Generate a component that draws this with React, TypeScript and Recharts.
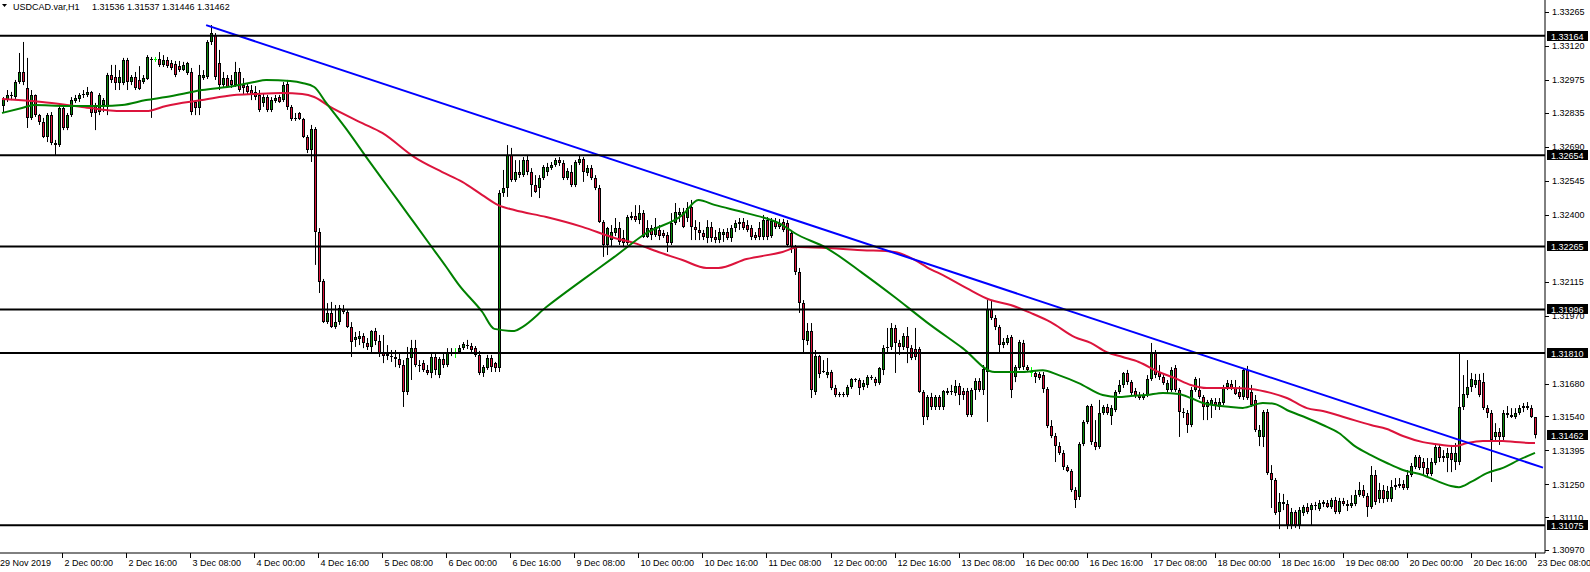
import React from "react";
import { Bar, ComposedChart, Line, ReferenceLine, XAxis, YAxis } from "recharts";

// hourly bars per session: [open, high, low, close]
const nov29 = [
  [1.32864, 1.32902, 1.32838, 1.32894], [1.32889, 1.32932, 1.32881, 1.32911], [1.32911, 1.32924, 1.32889, 1.32906],
  [1.32902, 1.32975, 1.32894, 1.32966], [1.32966, 1.3309, 1.32958, 1.33009], [1.33009, 1.33137, 1.32953, 1.32966],
  [1.32941, 1.33069, 1.3277, 1.32813], [1.32813, 1.32932, 1.32804, 1.32911], [1.32911, 1.32913, 1.32817, 1.32825],
  [1.32825, 1.3283, 1.32783, 1.32795], [1.32795, 1.32813, 1.32727, 1.32732], [1.32732, 1.32834, 1.3271, 1.32825],
  [1.32825, 1.32838, 1.32697, 1.32706], [1.32706, 1.32719, 1.32655, 1.32697], [1.32697, 1.32868, 1.32689, 1.32855],
];
const dec02 = [
  [1.32855, 1.32868, 1.32761, 1.3277], [1.3277, 1.32834, 1.32761, 1.32825], [1.32825, 1.32902, 1.32817, 1.32889],
  [1.32885, 1.32911, 1.32877, 1.32898], [1.32894, 1.32919, 1.32881, 1.32911], [1.32911, 1.32932, 1.32898, 1.32915],
  [1.32911, 1.32945, 1.32902, 1.32924], [1.32924, 1.32928, 1.32817, 1.32834], [1.32868, 1.32877, 1.32761, 1.32834],
  [1.32838, 1.32919, 1.32825, 1.32911], [1.32868, 1.32898, 1.32838, 1.32889], [1.3286, 1.33005, 1.32825, 1.32996],
  [1.32996, 1.33039, 1.32962, 1.32975], [1.32987, 1.33039, 1.32932, 1.32962], [1.32962, 1.33017, 1.32932, 1.32987],
  [1.32962, 1.33069, 1.32953, 1.3306], [1.3306, 1.33069, 1.32932, 1.32966], [1.32966, 1.32996, 1.32953, 1.32987],
  [1.32987, 1.33009, 1.32932, 1.32941], [1.32975, 1.33034, 1.32932, 1.32936], [1.32966, 1.32996, 1.32958, 1.32983],
  [1.32979, 1.33081, 1.32975, 1.33073], [1.33064, 1.33073, 1.32813, 1.3306], [1.33064, 1.33073, 1.33052, 1.33064],
];
const dec03 = [
  [1.33064, 1.33094, 1.3303, 1.33039], [1.33039, 1.33081, 1.3303, 1.3306], [1.3306, 1.33073, 1.33026, 1.33034],
  [1.33047, 1.3306, 1.33017, 1.33026], [1.33043, 1.33056, 1.32987, 1.32996], [1.33034, 1.33056, 1.33009, 1.33017],
  [1.33017, 1.33052, 1.33013, 1.33039], [1.33005, 1.33052, 1.32996, 1.33047], [1.33009, 1.33026, 1.32825, 1.32838],
  [1.32881, 1.32889, 1.32825, 1.32855], [1.32855, 1.33039, 1.32825, 1.32996], [1.32983, 1.33017, 1.32975, 1.32996],
  [1.32987, 1.33145, 1.32979, 1.33137], [1.33137, 1.33209, 1.33124, 1.33175], [1.33167, 1.33175, 1.32975, 1.32987],
  [1.33047, 1.33103, 1.32932, 1.32953], [1.32953, 1.33009, 1.32945, 1.32983], [1.32983, 1.32996, 1.32941, 1.32945],
  [1.32975, 1.32996, 1.32941, 1.32953], [1.32953, 1.33052, 1.32945, 1.33009], [1.33009, 1.33026, 1.32924, 1.32932],
  [1.32953, 1.32983, 1.32911, 1.32941], [1.32949, 1.32958, 1.32911, 1.32924], [1.32932, 1.32953, 1.32889, 1.32911],
];
const dec04 = [
  [1.32924, 1.32949, 1.32889, 1.32902], [1.32911, 1.32932, 1.32838, 1.32847], [1.32877, 1.32919, 1.3286, 1.32902],
  [1.32902, 1.32911, 1.32838, 1.32847], [1.32847, 1.32902, 1.32838, 1.32889], [1.32885, 1.32911, 1.32877, 1.32898],
  [1.32902, 1.32911, 1.32877, 1.32881], [1.32889, 1.32966, 1.32881, 1.32953], [1.32958, 1.32975, 1.32847, 1.3286],
  [1.3286, 1.32868, 1.328, 1.32808], [1.32813, 1.32834, 1.328, 1.32808], [1.32834, 1.32838, 1.32804, 1.32808],
  [1.32808, 1.32813, 1.32727, 1.32732], [1.32732, 1.3274, 1.32663, 1.32676], [1.32676, 1.32783, 1.32625, 1.32766],
  [1.32766, 1.32774, 1.32186, 1.32326], [1.32326, 1.32343, 1.32066, 1.32113], [1.32117, 1.32126, 1.31938, 1.31942],
  [1.31942, 1.32023, 1.31934, 1.31981], [1.31981, 1.32028, 1.31917, 1.31921], [1.31921, 1.32015, 1.31913, 1.31942],
  [1.31942, 1.32015, 1.3193, 1.32002], [1.31998, 1.32015, 1.31976, 1.31985], [1.31985, 1.31994, 1.31917, 1.31921],
];
const dec05 = [
  [1.31921, 1.31942, 1.31793, 1.31857], [1.31866, 1.319, 1.31836, 1.31878], [1.3187, 1.31904, 1.31844, 1.31883],
  [1.31883, 1.31895, 1.31831, 1.31853], [1.31853, 1.31874, 1.31823, 1.31836], [1.31836, 1.31908, 1.3181, 1.31904],
  [1.31904, 1.31917, 1.31844, 1.31861], [1.31861, 1.31887, 1.31793, 1.3181], [1.3181, 1.31887, 1.31767, 1.31797],
  [1.31806, 1.31844, 1.3178, 1.31797], [1.31797, 1.31823, 1.31772, 1.31793], [1.31793, 1.31823, 1.3175, 1.31785],
  [1.31785, 1.3181, 1.31746, 1.31759], [1.31759, 1.3178, 1.3158, 1.31644], [1.31644, 1.31836, 1.31631, 1.31789],
  [1.31789, 1.31866, 1.31695, 1.31831], [1.31831, 1.31866, 1.3175, 1.31759], [1.31759, 1.3178, 1.31729, 1.31755],
  [1.31767, 1.3178, 1.31729, 1.31738], [1.31738, 1.31759, 1.31716, 1.31725], [1.31725, 1.3181, 1.31703, 1.31793],
  [1.31793, 1.31814, 1.31716, 1.31738], [1.31716, 1.31793, 1.31703, 1.31785], [1.31785, 1.31814, 1.31746, 1.31759],
];
const dec06 = [
  [1.31759, 1.31831, 1.3175, 1.3181], [1.3181, 1.31831, 1.31797, 1.31814], [1.3181, 1.31831, 1.31789, 1.3181],
  [1.31814, 1.31844, 1.31806, 1.31831], [1.31831, 1.31857, 1.31823, 1.31848], [1.3184, 1.31866, 1.31827, 1.31844],
  [1.3184, 1.31853, 1.31814, 1.31823], [1.31831, 1.3184, 1.31793, 1.31802], [1.31802, 1.31819, 1.31716, 1.31725],
  [1.31725, 1.31759, 1.31708, 1.3175], [1.31746, 1.31802, 1.31738, 1.31789], [1.31789, 1.31802, 1.31729, 1.3175],
  [1.31767, 1.31772, 1.31729, 1.31746], [1.31746, 1.32505, 1.31729, 1.32493], [1.32493, 1.32591, 1.32476, 1.32514],
  [1.32514, 1.32697, 1.32476, 1.32655], [1.32655, 1.32685, 1.3254, 1.32548], [1.32548, 1.32633, 1.3254, 1.32582],
  [1.32582, 1.32633, 1.32557, 1.32569], [1.32569, 1.32646, 1.32561, 1.32633], [1.32633, 1.32655, 1.32569, 1.32582],
  [1.32582, 1.32599, 1.32476, 1.32527], [1.32527, 1.32569, 1.32493, 1.32497], [1.32514, 1.32569, 1.32471, 1.32557],
];
const dec09 = [
  [1.32557, 1.32612, 1.32548, 1.32604], [1.32582, 1.32621, 1.32565, 1.32604], [1.32599, 1.32625, 1.32591, 1.32612],
  [1.32612, 1.32642, 1.32604, 1.32633], [1.32633, 1.32646, 1.32608, 1.32621], [1.32621, 1.32633, 1.32548, 1.32557],
  [1.32557, 1.32599, 1.32548, 1.32586], [1.32582, 1.32612, 1.32518, 1.32527], [1.32527, 1.32633, 1.32518, 1.32625],
  [1.32621, 1.32655, 1.32612, 1.32638], [1.32638, 1.32646, 1.3254, 1.32582], [1.32578, 1.32612, 1.32565, 1.32599],
  [1.32599, 1.32612, 1.32548, 1.32557], [1.32557, 1.32569, 1.32505, 1.32514], [1.32514, 1.32527, 1.32365, 1.32369],
  [1.32369, 1.32377, 1.3222, 1.32271], [1.32271, 1.32348, 1.32228, 1.32343], [1.32292, 1.32356, 1.32262, 1.32326],
  [1.32322, 1.32386, 1.32309, 1.32343], [1.32343, 1.32369, 1.32271, 1.32284], [1.32301, 1.32335, 1.32262, 1.32279],
  [1.32279, 1.32399, 1.32271, 1.3239], [1.32386, 1.32412, 1.32377, 1.32395], [1.32394, 1.32441, 1.32369, 1.32377],
];
const dec10 = [
  [1.32377, 1.32441, 1.3236, 1.32407], [1.32407, 1.3242, 1.32301, 1.32305], [1.32305, 1.32377, 1.32301, 1.32343],
  [1.32343, 1.32356, 1.32292, 1.32313], [1.32313, 1.32386, 1.32305, 1.32348], [1.32335, 1.32356, 1.32292, 1.32309],
  [1.32322, 1.32335, 1.32301, 1.32309], [1.32313, 1.32326, 1.32241, 1.32279], [1.32279, 1.32407, 1.32271, 1.32365],
  [1.32365, 1.3245, 1.32356, 1.32412], [1.32399, 1.32429, 1.32369, 1.32412], [1.32412, 1.32429, 1.32343, 1.32348],
  [1.32386, 1.32454, 1.32369, 1.32429], [1.32433, 1.32463, 1.32292, 1.32348], [1.32348, 1.32377, 1.32292, 1.32335],
  [1.32335, 1.32369, 1.32292, 1.32322], [1.32322, 1.32335, 1.32292, 1.32305], [1.32301, 1.32377, 1.32279, 1.32348],
  [1.32348, 1.32369, 1.32284, 1.32301], [1.32305, 1.32335, 1.32279, 1.32292], [1.32292, 1.32343, 1.32279, 1.32326],
  [1.32313, 1.32339, 1.32284, 1.32326], [1.32326, 1.32343, 1.32292, 1.32301], [1.32301, 1.32356, 1.32284, 1.32343],
];
const dec11 = [
  [1.32343, 1.32377, 1.32326, 1.32365], [1.3236, 1.32386, 1.32335, 1.32369], [1.32369, 1.32386, 1.32335, 1.32343],
  [1.32356, 1.32377, 1.32326, 1.32335], [1.32343, 1.32356, 1.32292, 1.32305], [1.32313, 1.32326, 1.32292, 1.32301],
  [1.32343, 1.32369, 1.32292, 1.32305], [1.32305, 1.32399, 1.32292, 1.32377], [1.32377, 1.3239, 1.32292, 1.32305],
  [1.32309, 1.32386, 1.32301, 1.32373], [1.32373, 1.32386, 1.32339, 1.32348], [1.3236, 1.32382, 1.32339, 1.32348],
  [1.32369, 1.32382, 1.32326, 1.32335], [1.32365, 1.32377, 1.32262, 1.32271], [1.32322, 1.32335, 1.32237, 1.32262],
  [1.32262, 1.32271, 1.32143, 1.32156], [1.32156, 1.32173, 1.31981, 1.32023], [1.32023, 1.32036, 1.31814, 1.31866],
  [1.31861, 1.31938, 1.31844, 1.31904], [1.31904, 1.31938, 1.31618, 1.31652], [1.31644, 1.31823, 1.31631, 1.31797],
  [1.31797, 1.31802, 1.31703, 1.3172], [1.31733, 1.3178, 1.31725, 1.31729], [1.31716, 1.31789, 1.31703, 1.31729],
];
const dec12 = [
  [1.31729, 1.31738, 1.31652, 1.31661], [1.31661, 1.31674, 1.31622, 1.31631], [1.31635, 1.31644, 1.31622, 1.31631],
  [1.31631, 1.31644, 1.31622, 1.31635], [1.31631, 1.31674, 1.31622, 1.31665], [1.31665, 1.31703, 1.31657, 1.31699],
  [1.31699, 1.31703, 1.31686, 1.31695], [1.31695, 1.31703, 1.31631, 1.31661], [1.31665, 1.31695, 1.31652, 1.31682],
  [1.31674, 1.31716, 1.31661, 1.31708], [1.31703, 1.31716, 1.31695, 1.31708], [1.31699, 1.31708, 1.31669, 1.31682],
  [1.31682, 1.3175, 1.31674, 1.31746], [1.31738, 1.31844, 1.31716, 1.31831], [1.31831, 1.31917, 1.31814, 1.31836],
  [1.31836, 1.31938, 1.31823, 1.31917], [1.31917, 1.3193, 1.31725, 1.31853], [1.31853, 1.31866, 1.31802, 1.31836],
  [1.31836, 1.31895, 1.31823, 1.31883], [1.31883, 1.31921, 1.31767, 1.31831], [1.31831, 1.31844, 1.3178, 1.31789],
  [1.31827, 1.31917, 1.3178, 1.31793], [1.31827, 1.31836, 1.3164, 1.31644], [1.31644, 1.31652, 1.31503, 1.31537],
];
const dec13 = [
  [1.31537, 1.31631, 1.31524, 1.31622], [1.31622, 1.3164, 1.31567, 1.3158], [1.3158, 1.31631, 1.31567, 1.31622],
  [1.31622, 1.31631, 1.31567, 1.3158], [1.3158, 1.31652, 1.31567, 1.31648], [1.3164, 1.31661, 1.31631, 1.31648],
  [1.31648, 1.31674, 1.31631, 1.31644], [1.3164, 1.31695, 1.31627, 1.31669], [1.31669, 1.31682, 1.31588, 1.31631],
  [1.31648, 1.31661, 1.3161, 1.31631], [1.31648, 1.31661, 1.31537, 1.31546], [1.31546, 1.31661, 1.31537, 1.31652],
  [1.31652, 1.31703, 1.3161, 1.31691], [1.31691, 1.31703, 1.31644, 1.31652], [1.31652, 1.31759, 1.31631, 1.31742],
  [1.31729, 1.32036, 1.31516, 1.31998], [1.31998, 1.32036, 1.31951, 1.31959], [1.31959, 1.31972, 1.31908, 1.31921],
  [1.31921, 1.3193, 1.31814, 1.31844], [1.31844, 1.31874, 1.31831, 1.31857], [1.31853, 1.31887, 1.31844, 1.31874],
  [1.31878, 1.31887, 1.31618, 1.31652], [1.31708, 1.31759, 1.31686, 1.3175], [1.31746, 1.31866, 1.31738, 1.31857],
];
const dec16 = [
  [1.31853, 1.31866, 1.31738, 1.3175], [1.3175, 1.31759, 1.31729, 1.31738], [1.31729, 1.3175, 1.31708, 1.31729],
  [1.31725, 1.31733, 1.31682, 1.31708], [1.31721, 1.31729, 1.31695, 1.31703], [1.31716, 1.31729, 1.3164, 1.31657],
  [1.31657, 1.31665, 1.3149, 1.31499], [1.31499, 1.31524, 1.31447, 1.31456], [1.31456, 1.31469, 1.31345, 1.31413],
  [1.31413, 1.3143, 1.31375, 1.31384], [1.31384, 1.31396, 1.31311, 1.31324], [1.31324, 1.31332, 1.31302, 1.31307],
  [1.31307, 1.31315, 1.31217, 1.31226], [1.31226, 1.31238, 1.31149, 1.31183], [1.31196, 1.3143, 1.31183, 1.31422],
  [1.31422, 1.31524, 1.31413, 1.31516], [1.31516, 1.31588, 1.31507, 1.31584], [1.31584, 1.31593, 1.31418, 1.3143],
  [1.3143, 1.31524, 1.31396, 1.31409], [1.31409, 1.3161, 1.31401, 1.31554], [1.31554, 1.31588, 1.31546, 1.3158],
  [1.3158, 1.31593, 1.31546, 1.31554], [1.31541, 1.31588, 1.31503, 1.31575], [1.31567, 1.31652, 1.31558, 1.31644],
];
const dec17 = [
  [1.31644, 1.31695, 1.31635, 1.31674], [1.31674, 1.31729, 1.31661, 1.31725], [1.31725, 1.31738, 1.31674, 1.31686],
  [1.31686, 1.31695, 1.31631, 1.3164], [1.31648, 1.31661, 1.31618, 1.31627], [1.31631, 1.31644, 1.3161, 1.31618],
  [1.31618, 1.3164, 1.3161, 1.31631], [1.31631, 1.31716, 1.31622, 1.31699], [1.31699, 1.31853, 1.31691, 1.3181],
  [1.3181, 1.31823, 1.31703, 1.31716], [1.31729, 1.31759, 1.31695, 1.31708], [1.31708, 1.31716, 1.31674, 1.31682],
  [1.31652, 1.31695, 1.3164, 1.31682], [1.31652, 1.3175, 1.31644, 1.31738], [1.31746, 1.31759, 1.31644, 1.31652],
  [1.31652, 1.31661, 1.31452, 1.31558], [1.31558, 1.31575, 1.31533, 1.31554], [1.31554, 1.31567, 1.31469, 1.31503],
  [1.31503, 1.31665, 1.31494, 1.31652], [1.31652, 1.31708, 1.31644, 1.31699], [1.31652, 1.31703, 1.31614, 1.31622],
  [1.31622, 1.31631, 1.31524, 1.3158], [1.3158, 1.3161, 1.31524, 1.31601], [1.31588, 1.31618, 1.31533, 1.3161],
];
const dec18 = [
  [1.31601, 1.31618, 1.31567, 1.31588], [1.3158, 1.31618, 1.31567, 1.31601], [1.31597, 1.31674, 1.31588, 1.31665],
  [1.31665, 1.31695, 1.31652, 1.31682], [1.31678, 1.31695, 1.31652, 1.31661], [1.31661, 1.31695, 1.31631, 1.31635],
  [1.31644, 1.31669, 1.31614, 1.31622], [1.31622, 1.31746, 1.3161, 1.31738], [1.31738, 1.31755, 1.3161, 1.31618],
  [1.31644, 1.31674, 1.3158, 1.31588], [1.3161, 1.31631, 1.31473, 1.31482], [1.31452, 1.31503, 1.31413, 1.31482],
  [1.31452, 1.31567, 1.31409, 1.31558], [1.31558, 1.31571, 1.3129, 1.31298], [1.31298, 1.31332, 1.31149, 1.31268],
  [1.31268, 1.31277, 1.31119, 1.31128], [1.31132, 1.31213, 1.31059, 1.31175], [1.31175, 1.31209, 1.3114, 1.31166],
  [1.31166, 1.31183, 1.31059, 1.31076], [1.31076, 1.31149, 1.31059, 1.31132], [1.31132, 1.3114, 1.31064, 1.31076],
  [1.31076, 1.31153, 1.31059, 1.3114], [1.31128, 1.31162, 1.31115, 1.31153], [1.31153, 1.3117, 1.31123, 1.31132],
];
const dec19 = [
  [1.3114, 1.3117, 1.31076, 1.31162], [1.31157, 1.31175, 1.3114, 1.31162], [1.31145, 1.31183, 1.31136, 1.3117],
  [1.31166, 1.31183, 1.31153, 1.31175], [1.3117, 1.31183, 1.31149, 1.31153], [1.31153, 1.31192, 1.31145, 1.31183],
  [1.31183, 1.31196, 1.31123, 1.31132], [1.31132, 1.31192, 1.31123, 1.31179], [1.31179, 1.31192, 1.31157, 1.31166],
  [1.31166, 1.31183, 1.31136, 1.31157], [1.31157, 1.31204, 1.31149, 1.3117], [1.31166, 1.31226, 1.31157, 1.31204],
  [1.31204, 1.3126, 1.31196, 1.31226], [1.31226, 1.31247, 1.31192, 1.312], [1.312, 1.31213, 1.31111, 1.31153],
  [1.31153, 1.31328, 1.31145, 1.3129], [1.3129, 1.31311, 1.31162, 1.31175], [1.31187, 1.31256, 1.3117, 1.31226],
  [1.31226, 1.31247, 1.3117, 1.31187], [1.31187, 1.31243, 1.31175, 1.31221], [1.31187, 1.31268, 1.31175, 1.31238],
  [1.31238, 1.31277, 1.31226, 1.31247], [1.31243, 1.31277, 1.31234, 1.31251], [1.31251, 1.31268, 1.31226, 1.31234],
];
const dec20 = [
  [1.31234, 1.31311, 1.31226, 1.3129], [1.3129, 1.31341, 1.31281, 1.31328], [1.31324, 1.31375, 1.31315, 1.31366],
  [1.31366, 1.31375, 1.31311, 1.3132], [1.31345, 1.31362, 1.3129, 1.3132], [1.3132, 1.31362, 1.31281, 1.31294],
  [1.31294, 1.31362, 1.31285, 1.31345], [1.31341, 1.31418, 1.31332, 1.31409], [1.31409, 1.31418, 1.31345, 1.31362],
  [1.31371, 1.31396, 1.31345, 1.31362], [1.31362, 1.31405, 1.31302, 1.31384], [1.31384, 1.31418, 1.31302, 1.31354],
  [1.31345, 1.31426, 1.31311, 1.31384], [1.31345, 1.3181, 1.31332, 1.3158], [1.3158, 1.31716, 1.31567, 1.31635],
  [1.31631, 1.3178, 1.31618, 1.31665], [1.31665, 1.31725, 1.31644, 1.31699], [1.31674, 1.31721, 1.31661, 1.31695],
  [1.31695, 1.31721, 1.31622, 1.31631], [1.31686, 1.31725, 1.31567, 1.31575], [1.31575, 1.31588, 1.31533, 1.31554],
  [1.31554, 1.31567, 1.3126, 1.31439], [1.31452, 1.31511, 1.31439, 1.31473], [1.31473, 1.3149, 1.31418, 1.31452],
];
const dec23 = [
  [1.31452, 1.31567, 1.31439, 1.31554], [1.31554, 1.31584, 1.31533, 1.31546], [1.31546, 1.31575, 1.31533, 1.31537],
  [1.31537, 1.31575, 1.31529, 1.31554], [1.31554, 1.31588, 1.31546, 1.31575], [1.31575, 1.31597, 1.31558, 1.31584],
  [1.31584, 1.31601, 1.31567, 1.31575], [1.31575, 1.31588, 1.31533, 1.31537], [1.31536, 1.31537, 1.31446, 1.31462],
];

const sessions: [string, number, number[][]][] = [
  ["29 Nov", 9, nov29], ["2 Dec", 0, dec02], ["3 Dec", 0, dec03], ["4 Dec", 0, dec04],
  ["5 Dec", 0, dec05], ["6 Dec", 0, dec06], ["9 Dec", 0, dec09], ["10 Dec", 0, dec10],
  ["11 Dec", 0, dec11], ["12 Dec", 0, dec12], ["13 Dec", 0, dec13], ["16 Dec", 0, dec16],
  ["17 Dec", 0, dec17], ["18 Dec", 0, dec18], ["19 Dec", 0, dec19], ["20 Dec", 0, dec20],
  ["23 Dec", 0, dec23],
];
// empty slots on the right, the trend line runs into them
const emptySlots = ["23 Dec 09:00", "23 Dec 10:00"];

const redMa: [string, number][] = [
  ["29 Nov 09:00", 1.32894], ["29 Nov 19:00", 1.32881], ["2 Dec 05:00", 1.3286], ["2 Dec 15:00", 1.32842],
  ["2 Dec 21:00", 1.32842], ["3 Dec 02:00", 1.32864], ["3 Dec 11:00", 1.32889], ["3 Dec 19:00", 1.32911],
  ["4 Dec 00:00", 1.32915], ["4 Dec 07:00", 1.32919], ["4 Dec 12:00", 1.32915], ["4 Dec 15:00", 1.32902],
  ["4 Dec 19:00", 1.3286], ["5 Dec 03:00", 1.32791], ["5 Dec 08:00", 1.32749], ["5 Dec 16:00", 1.32646],
  ["5 Dec 23:00", 1.32582], ["6 Dec 04:00", 1.3254], ["6 Dec 09:00", 1.32484], ["6 Dec 13:00", 1.32441],
  ["6 Dec 17:00", 1.3242], ["9 Dec 01:00", 1.3239], ["9 Dec 10:00", 1.32348], ["9 Dec 18:00", 1.32301],
  ["9 Dec 23:00", 1.32279], ["10 Dec 05:00", 1.32241], ["10 Dec 11:00", 1.32207], ["10 Dec 17:00", 1.32173],
  ["10 Dec 20:00", 1.32173], ["11 Dec 03:00", 1.32211], ["11 Dec 12:00", 1.32241], ["11 Dec 16:00", 1.32262],
  ["11 Dec 23:00", 1.32258], ["12 Dec 08:00", 1.32249], ["12 Dec 16:00", 1.32241], ["12 Dec 21:00", 1.32207],
  ["13 Dec 00:00", 1.32177], ["13 Dec 05:00", 1.32134], ["13 Dec 10:00", 1.32087], ["13 Dec 16:00", 1.32036],
  ["13 Dec 21:00", 1.32015], ["16 Dec 02:00", 1.31981], ["16 Dec 07:00", 1.31942], ["16 Dec 13:00", 1.31878],
  ["16 Dec 17:00", 1.31853], ["16 Dec 21:00", 1.31814], ["17 Dec 01:00", 1.31793], ["17 Dec 05:00", 1.31772],
  ["17 Dec 10:00", 1.31729], ["17 Dec 14:00", 1.31703], ["17 Dec 18:00", 1.31674], ["17 Dec 22:00", 1.31661],
  ["18 Dec 04:00", 1.31661], ["18 Dec 09:00", 1.31657], ["18 Dec 14:00", 1.3164], ["18 Dec 18:00", 1.31618],
  ["18 Dec 23:00", 1.31575], ["19 Dec 03:00", 1.31563], ["19 Dec 09:00", 1.31533], ["19 Dec 15:00", 1.31503],
  ["19 Dec 19:00", 1.31486], ["19 Dec 23:00", 1.31456], ["20 Dec 04:00", 1.3143], ["20 Dec 07:00", 1.31422],
  ["20 Dec 12:00", 1.31413], ["20 Dec 15:00", 1.31426], ["20 Dec 19:00", 1.31435], ["23 Dec 00:00", 1.31435],
  ["23 Dec 03:00", 1.3143], ["23 Dec 08:00", 1.31426],
];

const greenMa: [string, number][] = [
  ["29 Nov 09:00", 1.32834], ["29 Nov 14:00", 1.32855], ["29 Nov 17:00", 1.32868], ["2 Dec 01:00", 1.32864],
  ["2 Dec 10:00", 1.32864], ["2 Dec 15:00", 1.32868], ["2 Dec 21:00", 1.32889], ["3 Dec 02:00", 1.32902],
  ["3 Dec 11:00", 1.32932], ["3 Dec 19:00", 1.32949], ["4 Dec 00:00", 1.32966], ["4 Dec 03:00", 1.32975],
  ["4 Dec 09:00", 1.3297], ["4 Dec 12:00", 1.32962], ["4 Dec 15:00", 1.32945], ["4 Dec 18:00", 1.32877],
  ["4 Dec 23:00", 1.32766], ["5 Dec 04:00", 1.32646], ["5 Dec 08:00", 1.32552], ["5 Dec 12:00", 1.32459],
  ["5 Dec 16:00", 1.32365], ["5 Dec 20:00", 1.32271], ["6 Dec 00:00", 1.32177], ["6 Dec 03:00", 1.32104],
  ["6 Dec 09:00", 1.31985], ["6 Dec 12:00", 1.31913], ["6 Dec 17:00", 1.31904], ["6 Dec 19:00", 1.31921],
  ["9 Dec 01:00", 1.32006], ["9 Dec 10:00", 1.32121], ["9 Dec 18:00", 1.3222], ["10 Dec 02:00", 1.32322],
  ["10 Dec 11:00", 1.32399], ["10 Dec 15:00", 1.32463], ["10 Dec 19:00", 1.32442], ["11 Dec 03:00", 1.32407],
  ["11 Dec 12:00", 1.32356], ["11 Dec 15:00", 1.32322], ["11 Dec 23:00", 1.32258], ["12 Dec 08:00", 1.32151],
  ["12 Dec 16:00", 1.32049], ["13 Dec 00:00", 1.31942], ["13 Dec 09:00", 1.31831], ["13 Dec 17:00", 1.31729],
  ["16 Dec 00:00", 1.31729], ["16 Dec 05:00", 1.31737], ["16 Dec 09:00", 1.31716], ["16 Dec 14:00", 1.31682],
  ["16 Dec 20:00", 1.31631], ["17 Dec 00:00", 1.31622], ["17 Dec 03:00", 1.31627], ["17 Dec 07:00", 1.31631],
  ["17 Dec 11:00", 1.3164], ["17 Dec 15:00", 1.31635], ["17 Dec 18:00", 1.31618], ["17 Dec 21:00", 1.31597],
  ["18 Dec 04:00", 1.3158], ["18 Dec 07:00", 1.31576], ["18 Dec 12:00", 1.31597], ["18 Dec 15:00", 1.31593],
  ["18 Dec 18:00", 1.31567], ["18 Dec 23:00", 1.31533], ["19 Dec 03:00", 1.31503], ["19 Dec 07:00", 1.31469],
  ["19 Dec 11:00", 1.31413], ["19 Dec 15:00", 1.31375], ["19 Dec 19:00", 1.31341], ["19 Dec 23:00", 1.31311],
  ["20 Dec 04:00", 1.3129], ["20 Dec 07:00", 1.31268], ["20 Dec 11:00", 1.31243], ["20 Dec 13:00", 1.31238],
  ["20 Dec 16:00", 1.3126], ["20 Dec 20:00", 1.31298], ["23 Dec 00:00", 1.3132], ["23 Dec 04:00", 1.31354],
  ["23 Dec 08:00", 1.31384],
];

const trendLine: [string, number][] = [["3 Dec 12:00", 1.33209], ["23 Dec 10:00", 1.31321]];

const levels = [1.33164, 1.32654, 1.32265, 1.31996, 1.3181, 1.31075];
const lastPrice = 1.31462;
const quote = ["1.31536", "1.31537", "1.31446", "1.31462"];

const priceTicks = [
  1.33265, 1.3312, 1.32975, 1.32835, 1.3269, 1.32545, 1.324, 1.32115,
  1.3197, 1.3168, 1.3154, 1.31395, 1.3125, 1.3111, 1.3097,
];
const timeTicks = [
  "29 Nov 09:00", "2 Dec 00:00", "2 Dec 16:00", "3 Dec 08:00", "4 Dec 00:00", "4 Dec 16:00", "5 Dec 08:00",
  "6 Dec 00:00", "6 Dec 16:00", "9 Dec 08:00", "10 Dec 00:00", "10 Dec 16:00", "11 Dec 08:00",
  "12 Dec 00:00", "12 Dec 16:00", "13 Dec 08:00", "16 Dec 00:00", "16 Dec 16:00", "17 Dec 08:00",
  "18 Dec 00:00", "18 Dec 16:00", "19 Dec 08:00", "20 Dec 00:00", "20 Dec 16:00", "23 Dec 08:00",
];

const FONT = '"Liberation Sans", Arial, sans-serif';
const BULL = "#0a8a0a";
const BEAR = "#dc143c";

const hour = (h: number) => String(h).padStart(2, "0") + ":00";

const rows: any[] = sessions.flatMap(([day, h0, bars]) =>
  bars.map((b, k) => ({
    t: `${day} ${hour(h0 + k)}`,
    open: b[0],
    high: b[1],
    low: b[2],
    close: b[3],
    range: [b[2], b[1]],
  }))
);
emptySlots.forEach((t) => rows.push({ t }));
const byTime = new Map(rows.map((r) => [r.t, r]));
redMa.forEach(([t, v]) => (byTime.get(t).red = v));
greenMa.forEach(([t, v]) => (byTime.get(t).green = v));
trendLine.forEach(([t, v]) => (byTime.get(t).trend = v));

function Candle(props: any) {
  const { x, y, width, height, payload } = props;
  if (!payload || payload.open == null) return null;
  const { open, high, low, close } = payload;
  const top = Math.min(y, y + height);
  const span = Math.abs(height);
  const k = high > low ? span / (high - low) : 0;
  const cx = Math.round(x + width / 2);
  const yO = top + (high - open) * k;
  const yC = top + (high - close) * k;
  if (open === close) {
    const yy = Math.round(yO) + 0.5;
    return (
      <g>
        <line x1={cx + 0.5} x2={cx + 0.5} y1={top} y2={top + span} stroke="#00ff00" />
        <line x1={cx - 1} x2={cx + 2} y1={yy} y2={yy} stroke="#00ff00" />
      </g>
    );
  }
  const b0 = Math.round(Math.min(yO, yC));
  const b1 = Math.max(Math.round(Math.max(yO, yC)), b0 + 1);
  const h = b1 - b0;
  return (
    <g>
      <line x1={cx + 0.5} x2={cx + 0.5} y1={top} y2={top + span} stroke="#000" />
      <rect x={cx - 1} y={b0} width={3} height={h} fill="#000" />
      {h > 2 && <rect x={cx} y={b0 + 1} width={1} height={h - 2} fill={close > open ? BULL : BEAR} />}
    </g>
  );
}

function TimeTick({ x, y, payload }: any) {
  if (payload.value === timeTicks[0]) {
    return (
      <text x={x - 2} y={y + 12.5} fontSize={9} fontFamily={FONT} fill="#000">
        29 Nov 2019
      </text>
    );
  }
  const px = Math.round(x) + 0.5;
  return (
    <g>
      <line x1={px} x2={px} y1={y} y2={y + 5} stroke="#000" />
      <text x={px + 2} y={y + 12.5} fontSize={9} fontFamily={FONT} fill="#000">
        {payload.value}
      </text>
    </g>
  );
}

function PriceTick({ x, y, payload }: any) {
  const py = Math.round(y) + 0.5;
  return (
    <g>
      <line x1={x} x2={x + 4} y1={py} y2={py} stroke="#000" />
      <text x={x + 7} y={y + 3.5} fontSize={9} fontFamily={FONT} fill="#000">
        {payload.value.toFixed(5)}
      </text>
    </g>
  );
}

function PriceTag({ viewBox, price }: any) {
  if (!viewBox) return null;
  const yy = Math.round(viewBox.y);
  const left = viewBox.x + viewBox.width + 2;
  return (
    <g>
      <rect x={left} y={yy - 5} width={41} height={10} fill="#000" />
      <text x={left + 4} y={yy + 3.5} fontSize={9} fontFamily={FONT} fill="#fff">
        {price.toFixed(5)}
      </text>
    </g>
  );
}

export default function App() {
  return (
    <div style={{ position: "relative", width: 1590, height: 572, background: "#fff" }}>
      <style>{"body{margin:0}"}</style>
      <ComposedChart width={1590} height={572} data={rows} margin={{ top: 0, right: 0, bottom: 0, left: 0 }}>
        <XAxis
          dataKey="t"
          interval={0}
          ticks={timeTicks}
          tick={<TimeTick />}
          tickLine={false}
          tickSize={0}
          tickMargin={0}
          height={19}
          axisLine={{ stroke: "#000" }}
        />
        <YAxis
          orientation="right"
          type="number"
          width={45}
          domain={[1.30957, 1.33316]}
          allowDataOverflow
          ticks={priceTicks}
          interval={0}
          tick={<PriceTick />}
          tickLine={false}
          tickSize={0}
          tickMargin={0}
          axisLine={{ stroke: "#000" }}
        />
        <Bar dataKey="range" barSize={3} shape={(p: any) => <Candle {...p} />} isAnimationActive={false} />
        <Line type="monotone" dataKey="red" stroke={BEAR} strokeWidth={2} dot={false} activeDot={false} connectNulls isAnimationActive={false} />
        <Line type="monotone" dataKey="green" stroke="#008000" strokeWidth={2} dot={false} activeDot={false} connectNulls isAnimationActive={false} />
        <Line type="linear" dataKey="trend" stroke="#0000ff" strokeWidth={2} dot={false} activeDot={false} connectNulls isAnimationActive={false} />
        {levels.map((v) => (
          <ReferenceLine key={v} y={v} stroke="#000" strokeWidth={2} label={<PriceTag price={v} />} />
        ))}
        <ReferenceLine y={lastPrice} stroke="none" label={<PriceTag price={lastPrice} />} />
      </ComposedChart>
      <svg width={260} height={14} style={{ position: "absolute", left: 0, top: 0 }}>
        <polygon points="2,4 7,4 4.5,7" fill="#000" />
        <text x={13} y={9.5} fontSize={9} fontFamily={FONT} fill="#000">
          USDCAD.var,H1
        </text>
        <text x={92} y={9.5} fontSize={9} fontFamily={FONT} fill="#000">
          {quote.join(" ")}
        </text>
      </svg>
    </div>
  );
}
